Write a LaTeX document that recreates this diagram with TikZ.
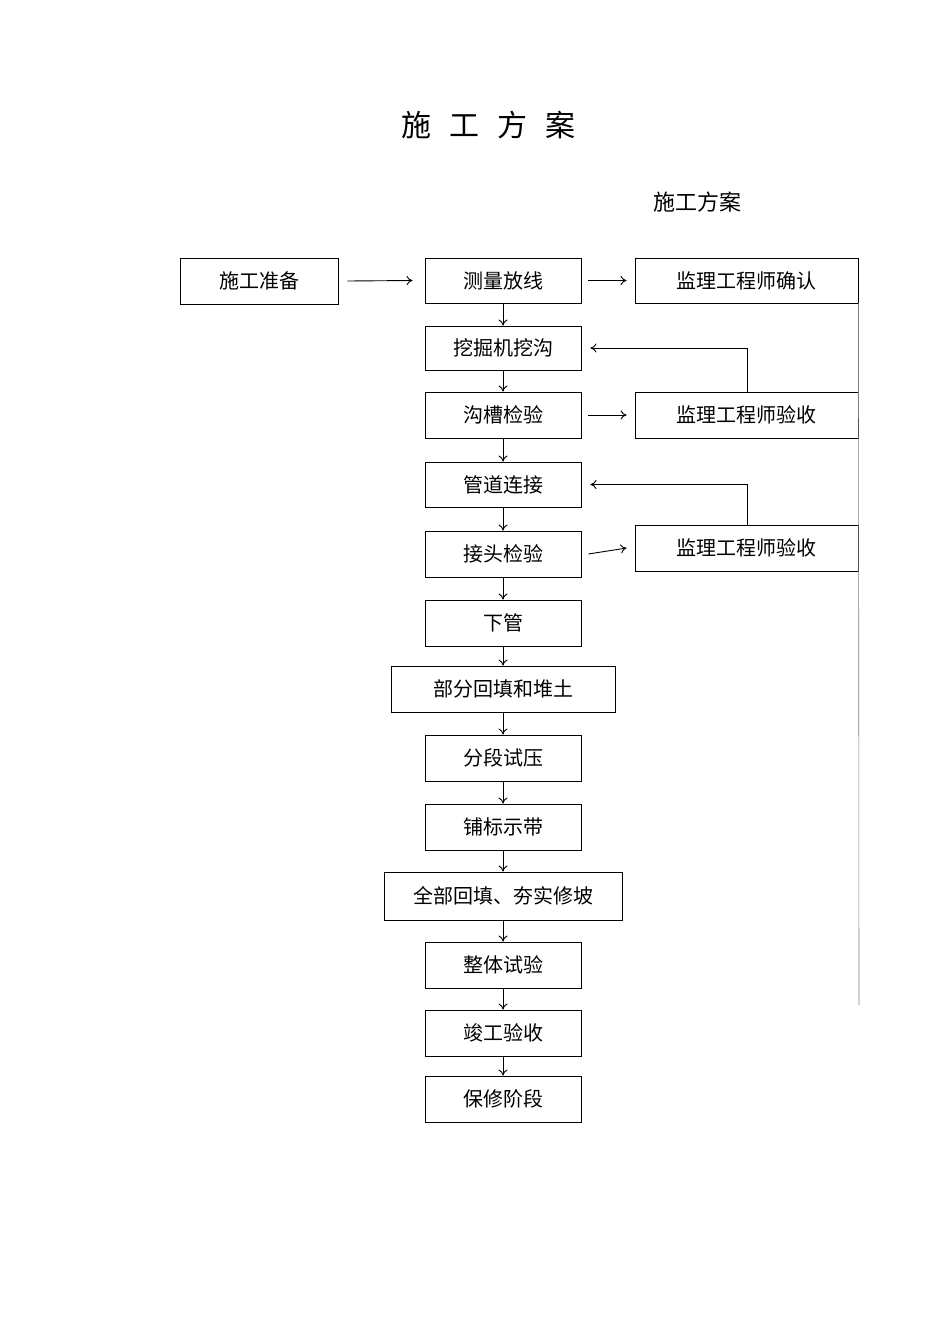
\documentclass[tikz,border=0pt]{standalone}
\usepackage{fontspec}
\newfontfamily\cjk{Noto Sans CJK SC}[Scale=1]
\usetikzlibrary{arrows.meta}
\begin{document}
\begin{tikzpicture}[x=1pt,y=-1pt,
  bx/.style={draw,line width=0.9pt,inner sep=0,font=\cjk\fontsize{20}{22}\selectfont},
  ar/.style={-{To[length=6pt,width=9pt]},line width=0.9pt}]
\useasboundingbox (0,0) rectangle (950,1344);
\node[font=\cjk\fontsize{30}{32}\selectfont] (title) at (488,125) {施\hspace{0.6em}工\hspace{0.6em}方\hspace{0.6em}案};
\node[font=\cjk\fontsize{22}{24}\selectfont] (sub) at (697,202) {施工方案};
\newcommand{\bxx}[6]{\node[bx,minimum width=#4-#3,minimum height=#6-#5] (#1) at ({(#3+#4)/2},{(#5+#6)/2}) {#2};}
\bxx{a}{施工准备}{180}{338}{258}{304}
\bxx{b}{测量放线}{425}{581}{258}{303}
\bxx{c}{监理工程师确认}{635}{858}{258}{303}
\bxx{d}{挖掘机挖沟}{425}{581}{326}{370}
\bxx{e}{沟槽检验}{425}{581}{392}{438}
\bxx{f}{监理工程师验收}{635}{858}{392}{438}
\bxx{g}{管道连接}{425}{581}{462}{507}
\bxx{h}{接头检验}{425}{581}{531}{577}
\bxx{i}{监理工程师验收}{635}{858}{525}{571}
\bxx{j}{下管}{425}{581}{600}{646}
\bxx{k}{部分回填和堆土}{391}{615}{666}{712}
\bxx{l}{分段试压}{425}{581}{735}{781}
\bxx{m}{铺标示带}{425}{581}{804}{850}
\bxx{n}{全部回填、夯实修坡}{384}{622}{872}{920}
\bxx{o}{整体试验}{425}{581}{942}{988}
\bxx{p}{竣工验收}{425}{581}{1010}{1056}
\bxx{q}{保修阶段}{425}{581}{1076}{1122}
\draw[ar] ([xshift=9pt]a.east) -- ([xshift=-12pt]b.west);
\draw[ar] ([xshift=7pt]b.east) -- ([xshift=-8pt]c.west);
\draw[ar] ([xshift=7pt]e.east) -- ([xshift=-8pt]f.west);
\draw[ar] ([xshift=7pt]h.east) -- ([xshift=-8pt]i.west);
\foreach \u/\v in {b/d,d/e,e/g,g/h,h/j,j/k,k/l,l/m,m/n,n/o,o/p,p/q}
  \draw[ar] (\u.south) -- (\v.north);
\draw[ar] (f.north -| 747,0) |- ([xshift=9pt]d.east);
\draw[ar] (i.north -| 747,0) |- ([xshift=9pt]g.east);
\coordinate (rb) at (859,1005);
\draw[line width=0.6pt,gray] (c.south east) -- (rb);
\end{tikzpicture}
\end{document}
